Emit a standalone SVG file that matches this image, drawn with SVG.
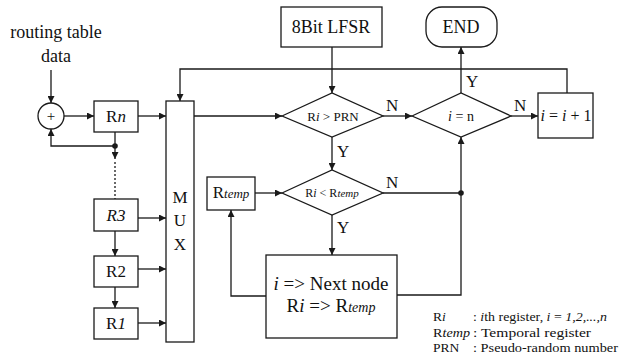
<svg xmlns="http://www.w3.org/2000/svg" width="627" height="359" viewBox="0 0 627 359">
<defs>
<style>
.s{fill:none;stroke:#1a1a1a;stroke-width:1.3}
.b{fill:#fff;stroke:#1a1a1a;stroke-width:1.3}
.t{font-family:"Liberation Serif","Times New Roman",serif;fill:#111}
.c{text-anchor:middle}
.i{font-style:italic}
</style>
<marker id="a" viewBox="0 0 10 10" refX="10" refY="5" markerWidth="7" markerHeight="7" orient="auto" markerUnits="userSpaceOnUse">
<path d="M0,0 L10,5 L0,10 z" fill="#1a1a1a"/>
</marker>
</defs>
<rect width="627" height="359" fill="#fff"/>

<g id="input-label">
<text class="t c" x="56" y="38" font-size="18">routing table</text>
<text class="t c" x="56" y="62" font-size="18">data</text>
</g>
<g id="adder">
<circle class="b" cx="51" cy="116" r="13"/>
<text class="t c" x="51" y="121" font-size="15">+</text>
</g>
<g id="Rn">
<rect class="b" x="94" y="101" width="44" height="31"/>
<text class="t c" x="116" y="122" font-size="17">R<tspan class="i">n</tspan></text>
</g>
<g id="R3">
<rect class="b" x="94" y="199" width="44" height="32"/>
<text class="t c i" x="116" y="221" font-size="17">R3</text>
</g>
<g id="R2">
<rect class="b" x="94" y="256" width="44" height="31"/>
<text class="t c" x="116" y="277" font-size="17">R2</text>
</g>
<g id="R1">
<rect class="b" x="94" y="308" width="44" height="31"/>
<text class="t c" x="116" y="329" font-size="17">R<tspan class="i">1</tspan></text>
</g>
<g id="MUX">
<rect class="b" x="166" y="101" width="28" height="241"/>
<text class="t c" x="180" y="203" font-size="17">M</text>
<text class="t c" x="180" y="226" font-size="17">U</text>
<text class="t c" x="180" y="250" font-size="17">X</text>
</g>
<g id="LFSR">
<rect class="b" x="281" y="7" width="101" height="40"/>
<text class="t c" x="331" y="33" font-size="18">8Bit LFSR</text>
</g>
<g id="END">
<rect class="b" x="426" y="7" width="71" height="40" rx="16"/>
<text class="t c" x="461" y="33" font-size="18">END</text>
</g>
<g id="cmp-prn">
<polygon class="b" points="282,116 332,93 383,116 332,137"/>
<text class="t c" x="333" y="121" font-size="13">R<tspan class="i">i</tspan> &gt; PRN</text>
</g>
<g id="cmp-n">
<polygon class="b" points="412,116 461,93 511,116 461,137"/>
<text class="t c" x="461" y="121" font-size="14"><tspan class="i">i</tspan> = n</text>
</g>
<g id="inc">
<rect class="b" x="538" y="93" width="55" height="45"/>
<text class="t c" x="566" y="121" font-size="16"><tspan class="i">i</tspan> = <tspan class="i">i</tspan> + 1</text>
</g>
<g id="Rtemp">
<rect class="b" x="207" y="177" width="48" height="33"/>
<text class="t c" x="231" y="198" font-size="17">R<tspan class="i" font-size="13">temp</tspan></text>
</g>
<g id="cmp-temp">
<polygon class="b" points="282,193 332,170 383,193 332,215"/>
<text class="t c" x="332" y="197" font-size="12">R<tspan class="i">i</tspan> &lt; R<tspan class="i" font-size="11">temp</tspan></text>
</g>
<g id="next">
<rect class="b" x="266" y="255" width="131" height="83"/>
<text class="t c" x="331" y="290" font-size="19"><tspan class="i">i</tspan> =&gt; Next node</text>
<text class="t c" x="331" y="312" font-size="19">R<tspan class="i">i</tspan> =&gt; R<tspan class="i" font-size="14">temp</tspan></text>
</g>

<g id="connectors">
<path class="s" d="M51,70 V103" marker-end="url(#a)"/>
<path class="s" d="M64,116 H94" marker-end="url(#a)"/>
<path class="s" d="M138,116 H166" marker-end="url(#a)"/>
<path class="s" d="M115,132 V146 H51 V129" marker-end="url(#a)"/>
<circle cx="115" cy="146" r="2.8" fill="#1a1a1a"/>
<path class="s" d="M115,146 V159" marker-end="url(#a)"/>
<path class="s" d="M115,162 V199" stroke-dasharray="2,2"/>
<path class="s" d="M138,218 H166" marker-end="url(#a)"/>
<path class="s" d="M115,231 V256" marker-end="url(#a)"/>
<path class="s" d="M138,269 H166" marker-end="url(#a)"/>
<path class="s" d="M115,287 V308" marker-end="url(#a)"/>
<path class="s" d="M138,323 H166" marker-end="url(#a)"/>
<path class="s" d="M194,116 H282" marker-end="url(#a)"/>
<path class="s" d="M332,47 V93" marker-end="url(#a)"/>
<path class="s" d="M383,116 H412" marker-end="url(#a)"/>
<path class="s" d="M332,137 V170" marker-end="url(#a)"/>
<path class="s" d="M461,93 V47" marker-end="url(#a)"/>
<path class="s" d="M511,116 H538" marker-end="url(#a)"/>
<path class="s" d="M567,93 V69 H180 V101" marker-end="url(#a)"/>
<path class="s" d="M255,193 H282" marker-end="url(#a)"/>
<path class="s" d="M383,193 H461"/>
<circle cx="461" cy="193" r="2.8" fill="#1a1a1a"/>
<path class="s" d="M461,193 V137" marker-end="url(#a)"/>
<path class="s" d="M397,295 H461 V193"/>
<path class="s" d="M332,215 V255" marker-end="url(#a)"/>
<path class="s" d="M266,296 H231 V210" marker-end="url(#a)"/>
<text class="t" x="386" y="111" font-size="17">N</text>
<text class="t" x="337" y="157" font-size="17">Y</text>
<text class="t" x="466" y="87" font-size="17">Y</text>
<text class="t" x="514" y="111" font-size="17">N</text>
<text class="t" x="386" y="188" font-size="17">N</text>
<text class="t" x="337" y="233" font-size="17">Y</text>
</g>

<g id="legend" class="t" font-size="13.5">
<text x="433" y="321">R<tspan class="i">i</tspan></text>
<text x="473" y="321" textLength="134" lengthAdjust="spacingAndGlyphs">: <tspan class="i">i</tspan>th register,  <tspan class="i">i</tspan> = <tspan class="i">1,2,...,n</tspan></text>
<text x="433" y="337" textLength="37" lengthAdjust="spacingAndGlyphs">R<tspan class="i">temp</tspan></text>
<text x="473" y="337" textLength="118" lengthAdjust="spacingAndGlyphs">: Temporal register</text>
<text x="433" y="352">PRN</text>
<text x="473" y="352" textLength="145" lengthAdjust="spacingAndGlyphs">: Pseudo-random number</text>
</g>
</svg>
